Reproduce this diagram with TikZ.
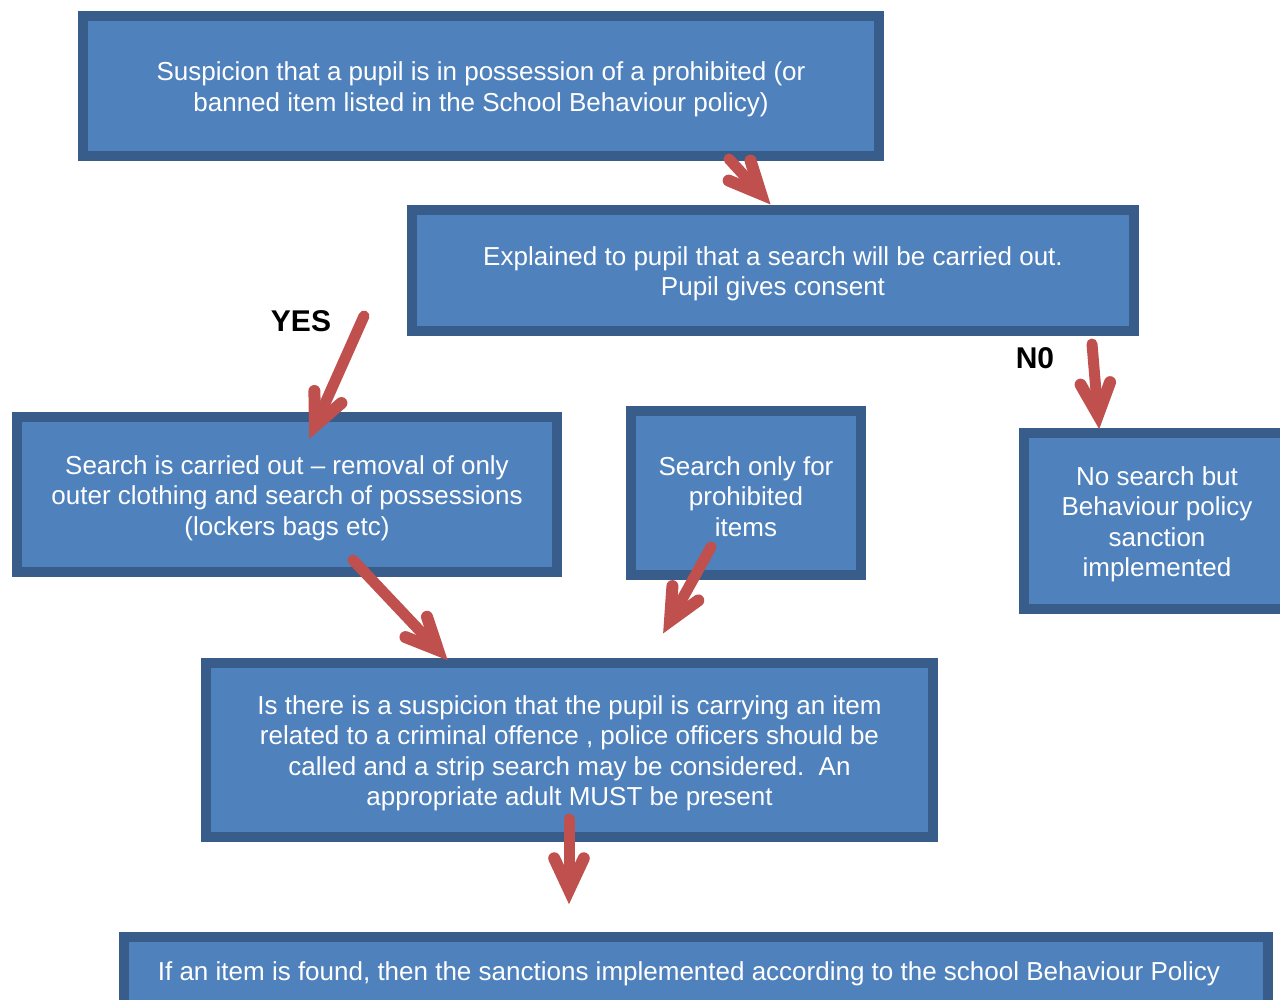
\documentclass[tikz,border=0pt]{standalone}
\usepackage{fontspec}
\setmainfont{Liberation Sans}
\usetikzlibrary{calc}
\definecolor{boxfill}{HTML}{4F81BD}
\definecolor{boxline}{HTML}{385D8A}
\definecolor{arrred}{HTML}{C0504D}
\tikzset{
  flowbox/.style={draw=boxline, fill=boxfill, line width=10.5pt, inner sep=0pt},
  boxtext/.style={text=white, align=center, inner sep=0pt, yshift=-3.5pt,
    font=\fontsize{26}{30.5}\selectfont},
  arrline/.style={draw=arrred, line width=11pt, line cap=round},
  barb/.style={draw=arrred, line width=12pt, line cap=round, line join=miter},
  lab/.style={font=\fontsize{30}{32}\selectfont\bfseries, text=black}
}
\newcommand{\redarrow}[2]{%
  \draw[arrline] (#1) -- (#2);
  \draw[barb] ($(#2)!35pt!25:(#1)$) -- (#2) -- ($(#2)!35pt!-25:(#1)$);
}
\begin{document}
\begin{tikzpicture}[x=1pt,y=-1pt]
\path[use as bounding box] (0,0) rectangle (1280,1000);
\clip (0,0) rectangle (1280,1000);
\node[flowbox, minimum width=796pt, minimum height=140pt,
  label={[boxtext]center:{Suspicion that a pupil is in possession of a prohibited (or\\banned item listed in the School Behaviour policy)}}] (b1) at (481,86) {};
\node[flowbox, minimum width=722pt, minimum height=121pt,
  label={[boxtext]center:{Explained to pupil that a search will be carried out.\\Pupil gives consent}}] (b2) at (773,270.5) {};
\node[flowbox, minimum width=540pt, minimum height=155pt,
  label={[boxtext]center:{Search is carried out -- removal of only\\outer clothing and search of possessions\\(lockers bags etc)}}] (b3) at (287,494.5) {};
\node[flowbox, minimum width=230pt, minimum height=164pt,
  label={[boxtext]center:{Search only for\\prohibited\\items}}] (b4) at (746,493) {};
\node[flowbox, minimum width=266pt, minimum height=176pt,
  label={[boxtext]center:{No search but\\Behaviour policy\\sanction\\implemented}}] (b5) at (1157,521) {};
\node[flowbox, minimum width=727pt, minimum height=174pt,
  label={[boxtext]center:{Is there is a suspicion that the pupil is carrying an item\\related to a criminal offence , police officers should be\\called and a strip search may be considered.\ \ An\\appropriate adult MUST be present}}] (b6) at (569.5,750) {};
\node[flowbox, minimum width=1144pt, minimum height=70pt,
  label={[boxtext, xshift=-7pt, yshift=2pt]center:{If an item is found, then the sanctions implemented according to the school Behaviour Policy}}] (b7) at (696,972) {};
\node[lab] (yes) at (301,321) {YES};
\node[lab] (no) at (1035,358) {N0};
\coordinate (a1s) at (729,159); \coordinate (a1t) at (761,194);
\coordinate (a2s) at (364,316); \coordinate (a2t) at (315,426);
\coordinate (a3s) at (1092,344); \coordinate (a3t) at (1098,415);
\coordinate (a4s) at (353,560); \coordinate (a4t) at (438,650);
\coordinate (a5s) at (711,547); \coordinate (a5t) at (670,621);
\coordinate (a6s) at (569,819); \coordinate (a6t) at (569,890);
\redarrow{a1s}{a1t}
\redarrow{a2s}{a2t}
\redarrow{a3s}{a3t}
\redarrow{a4s}{a4t}
\redarrow{a5s}{a5t}
\redarrow{a6s}{a6t}
\end{tikzpicture}
\end{document}
